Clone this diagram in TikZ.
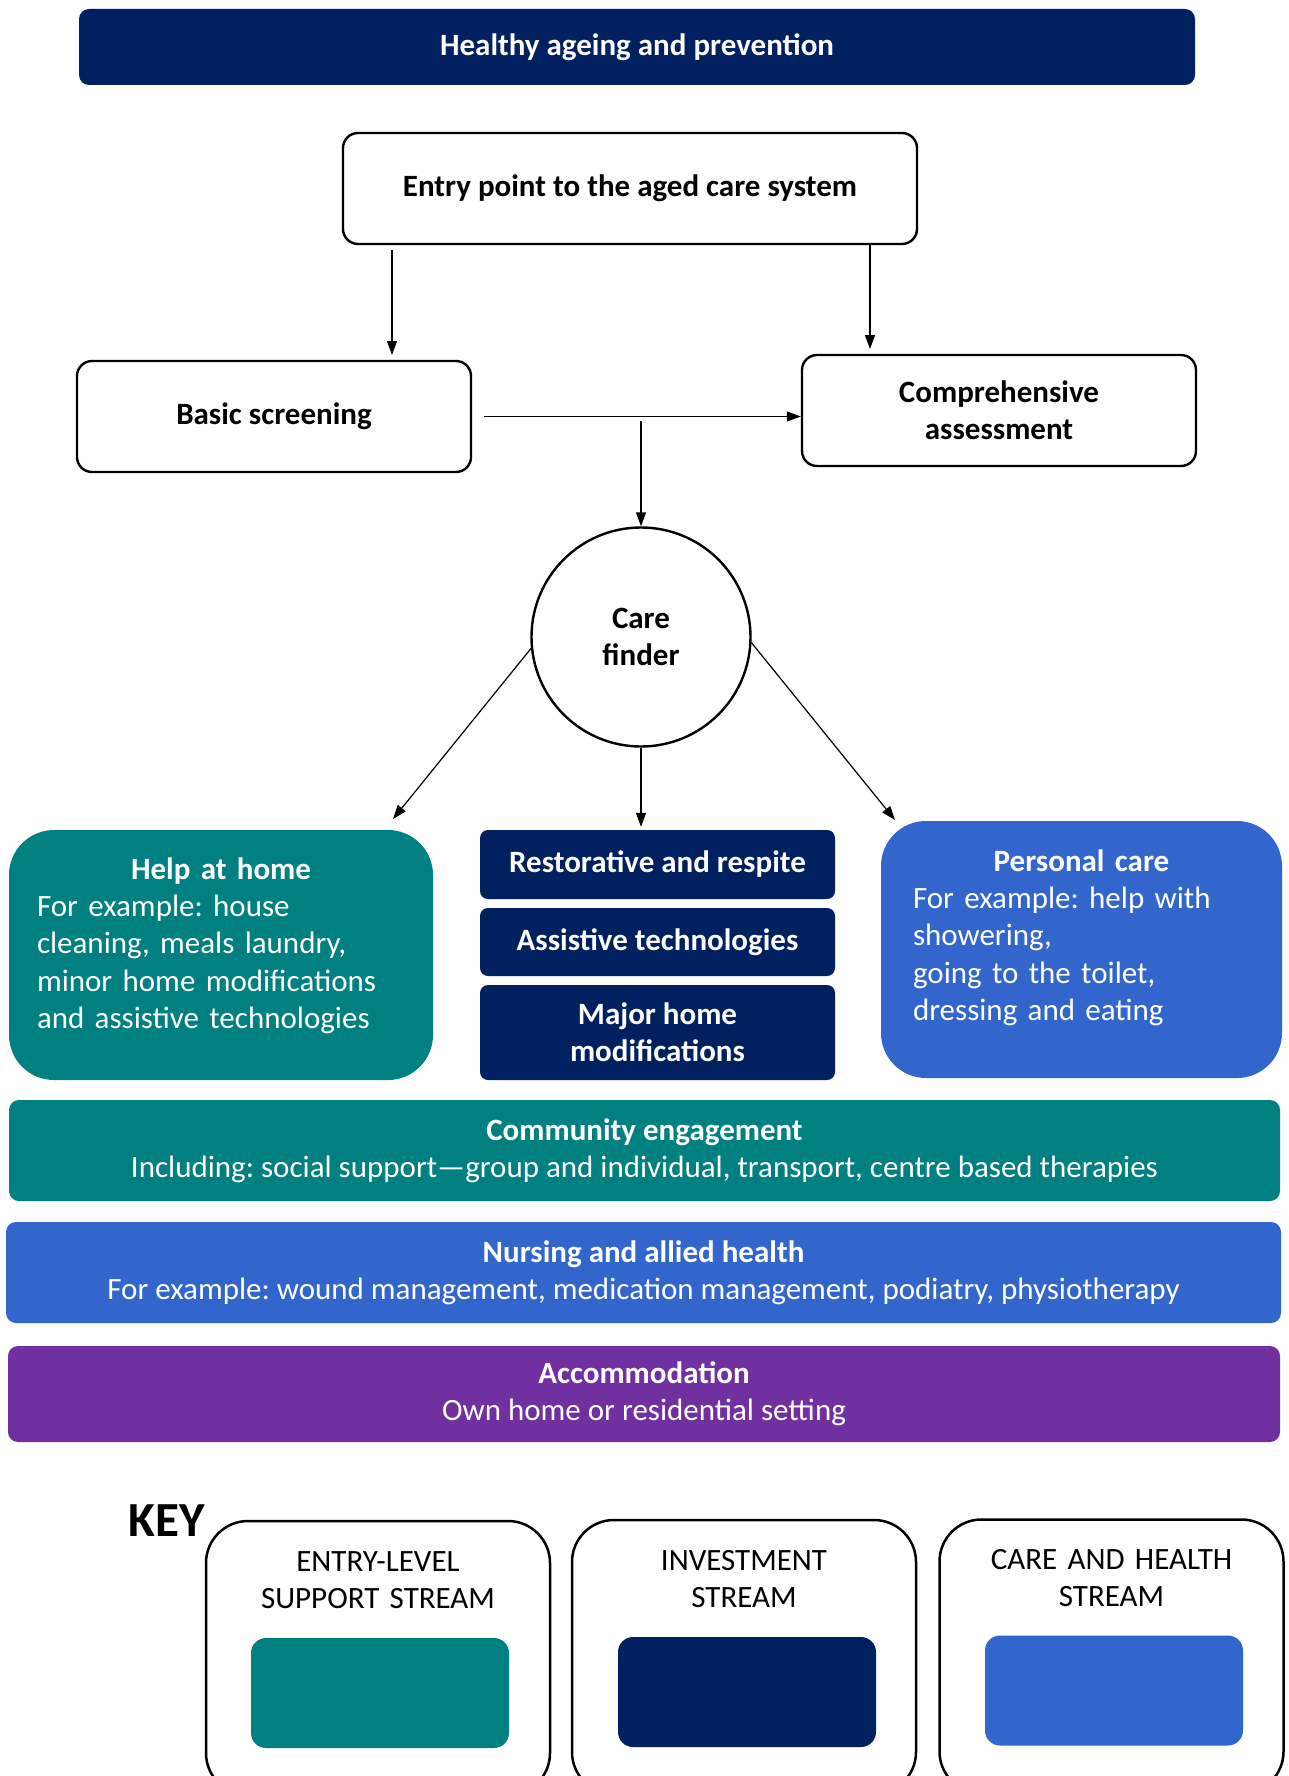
\documentclass[tikz,border=0pt]{standalone}
\usepackage{fontspec}
\setmainfont{Carlito}
\frenchspacing
\usetikzlibrary{arrows.meta}
\usetikzlibrary{positioning}
\definecolor{stream-teal}{RGB}{0, 128, 128}
\definecolor{stream-navy}{RGB}{0, 32, 96}
\definecolor{stream-blue}{RGB}{51, 102, 204}
\definecolor{stream-purple}{RGB}{112, 48, 160}

\tikzset{
  body font/.style={font=\fontsize{31}{37.4}\selectfont},
  outline box/.style={draw=black, line width=2.4pt, rounded corners=15pt, inner sep=0pt, body font, align=center},
  band/.style={rounded corners=10pt, inner sep=0pt, text=white, body font, align=center},
  flow arrow/.style={-{Triangle[length=14pt,width=10pt]}, line width=1.2pt},
  key box/.style={draw=black, line width=2.5pt, rounded corners=42pt, inner sep=0pt, minimum width=344pt, minimum height=274pt},
  swatch/.style={rounded corners=15pt, inner sep=0pt, minimum width=258pt, minimum height=110pt},
}

\begin{document}
\begin{tikzpicture}[x=1pt, y=-1pt]
\useasboundingbox (0,0) rectangle (1289,1776);
\clip (0,0) rectangle (1289,1776);

% top band
\node[band, fill=stream-navy, minimum width=1116pt, minimum height=76pt] (prevention) at (637,47) {\bfseries Healthy ageing and prevention};

% entry and assessment
\node[outline box, minimum width=574pt, minimum height=111pt] (entry) at (630,188.5) {\bfseries Entry point to the aged care system};
\node[outline box, minimum width=394pt, minimum height=111pt] (screening) at (274,416.5) {\bfseries Basic screening};
\node[outline box, minimum width=394pt, minimum height=111pt] (assessment) at (999,410.5) {\bfseries Comprehensive\\\bfseries assessment};
\node[circle, draw=black, line width=2.4pt, minimum size=219pt, inner sep=0pt, body font, align=center] (finder) at (641,637) {\bfseries Care\\\bfseries finder};

% services
\node[band, fill=stream-teal, rounded corners=45pt, minimum width=424pt, minimum height=250pt] (home) at (221,955) {};
\node[body font, text=white, text width=368pt, align=left, inner sep=0pt, anchor=base] (home text) at (221,879)
  {\makebox[\linewidth]{\bfseries Help at home}\\For example: house\\cleaning, meals laundry,\\minor home modifications\\and assistive technologies};

\node[band, fill=stream-navy, rounded corners=8pt, minimum width=355pt, minimum height=69pt] (respite) at (657.5,864.5) {\bfseries Restorative and respite};
\node[band, fill=stream-navy, rounded corners=8pt, minimum width=355pt, minimum height=68pt] (assistive) at (657.5,942) {\bfseries Assistive technologies};
\node[band, fill=stream-navy, rounded corners=8pt, minimum width=355pt, minimum height=95pt] (modifications) at (657.5,1032.5) {\bfseries Major home\\\bfseries modifications};

\node[band, fill=stream-blue, rounded corners=45pt, minimum width=401pt, minimum height=257pt] (personal) at (1081.5,949.5) {};
\node[body font, text=white, text width=337pt, align=left, inner sep=0pt, anchor=base] (personal text) at (1081.5,871)
  {\makebox[\linewidth]{\bfseries Personal care}\\For example: help with\\showering,\\going to the toilet,\\dressing and eating};

% arrows
\coordinate (screeningIn) at (392,355);
\coordinate (assessmentIn) at (870,349);
\coordinate (split) at (finder.north |- screening.east);
\coordinate (homeIn) at (393,819);
\coordinate (personalIn) at (895,820);

\draw[flow arrow, shorten <=5pt] (entry.south -| screeningIn) -- (screeningIn);
\draw[flow arrow] (entry.south -| assessmentIn) -- (assessmentIn);
\draw[flow arrow, shorten <=12pt] (screening.east) -- (assessment.west |- screening.east);
\draw[flow arrow, shorten <=4pt] (split) -- (finder.north);
\draw[flow arrow] (finder.186) -- (homeIn);
\draw[flow arrow, shorten >=3pt] (finder.south) -- (finder.south |- respite.north);
\draw[flow arrow] (finder.-3) -- (personalIn);

% bands across
\node[band, fill=stream-teal, minimum width=1271pt, minimum height=101pt] (community) at (644.5,1150.5)
  {\bfseries Community engagement\\Including: social support---group and individual, transport, centre based therapies};
\node[band, fill=stream-blue, minimum width=1275pt, minimum height=101pt] (nursing) at (643.5,1272.5)
  {\bfseries Nursing and allied health\\For example: wound management, medication management, podiatry, physiotherapy};
\node[band, fill=stream-purple, minimum width=1272pt, minimum height=96pt] (accommodation) at (644,1394)
  {\bfseries Accommodation\\Own home or residential setting};

% key
\node[font=\fontsize{49}{59}\selectfont\bfseries, inner sep=0pt] (key) at (167,1521) {KEY};
\node[key box] (entryKey) at (378,1658) {};
\node[key box] (investKey) at (744,1657) {};
\node[key box] (careKey) at (1111.5,1656.5) {};
\node[body font, text width=320pt, align=center, inner sep=0pt, anchor=base] (entryKey text) at (378,1571) {ENTRY-LEVEL\\SUPPORT STREAM};
\node[body font, text width=320pt, align=center, inner sep=0pt, anchor=base] (investKey text) at (744,1570) {INVESTMENT\\STREAM};
\node[body font, text width=320pt, align=center, inner sep=0pt, anchor=base] (careKey text) at (1111.5,1569) {CARE AND HEALTH\\STREAM};
\node[swatch, fill=stream-teal] (entrySwatch) at (380,1693) {};
\node[swatch, fill=stream-navy] (investSwatch) at (747,1692) {};
\node[swatch, fill=stream-blue] (careSwatch) at (1114,1690.5) {};

\end{tikzpicture}
\end{document}
